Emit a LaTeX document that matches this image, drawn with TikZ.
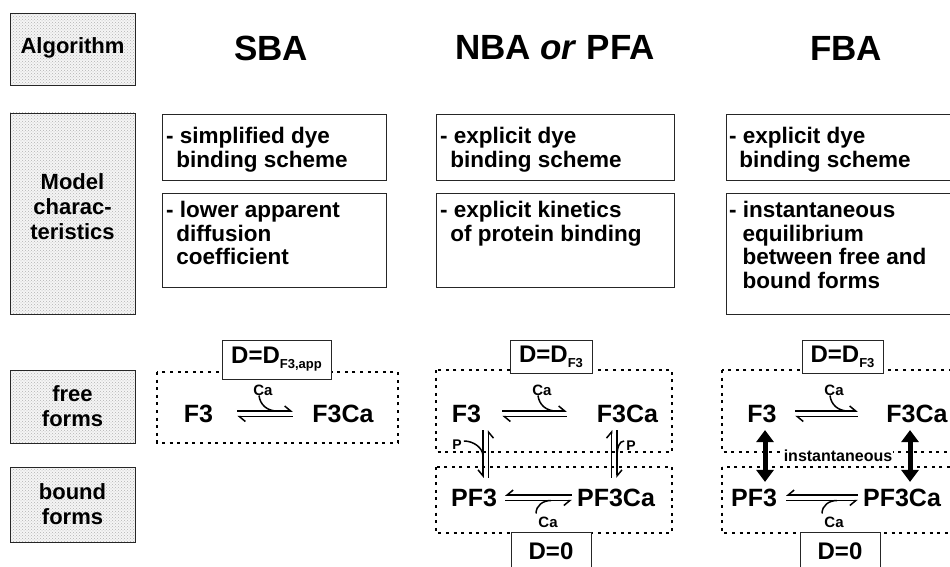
\documentclass[tikz,border=0pt]{standalone}
\usepackage{fontspec}
\setmainfont{Liberation Sans}
\usetikzlibrary{arrows.meta,patterns,positioning}

\newcommand{\tam}[2]{\fontsize{#1}{#2}\selectfont}
\newcommand{\subind}[1]{\raisebox{-5pt}{\tam{13}{13}#1}}

\begin{document}
\begin{tikzpicture}[x=1pt, y=-1pt,
    rotulo/.style={draw=black!85, line width=0.8pt, preaction={fill=gray!8},
      pattern=crosshatch dots, pattern color=gray!60, minimum width=125pt,
      inner sep=0pt},
    rotulotexto/.style={inner sep=0pt, align=center, font=\bfseries\tam{22}{25}},
    titulo/.style={inner sep=0pt, font=\bfseries\tam{35}{38}},
    caja/.style={draw=black!85, line width=0.8pt, inner sep=0pt, anchor=north west},
    texto/.style={anchor=north west, inner sep=0pt, align=left, font=\bfseries\tam{22.5}{23.6}},
    rayas/.style={line width=1.8pt, dash pattern=on 3pt off 4.6pt},
    coef/.style={draw=black!85, line width=0.8pt, fill=white, inner sep=0pt,
      font=\bfseries\tam{24}{26}},
    especie/.style={inner sep=0pt, font=\bfseries\tam{25}{28}},
    peq/.style={inner sep=0pt, font=\bfseries\tam{15}{17}},
    arpon/.style={line width=1.5pt, -{Straight Barb[harpoon, length=6pt, width=10pt]}},
    arponb/.style={line width=1.5pt, -{Straight Barb[harpoon, swap, length=6pt, width=10pt]}},
    gancho/.style={line width=1.5pt},
    flecha/.style={line width=5pt, {Triangle[length=12pt, width=17pt]}-{Triangle[length=12pt, width=17pt]}}
  ]
  \useasboundingbox (0,0) rectangle (950,567);

  % Rotulos de la columna izquierda
  \node[rotulo, minimum height=72pt] (algoritmo) at (72.5,49) {};
  \node[rotulo, minimum height=201pt] (modelo) at (72.5,213.5) {};
  \node[rotulo, minimum height=73pt] (libres) at (72.5,406.5) {};
  \node[rotulo, minimum height=75pt] (ligadas) at (72.5,504.5) {};
  \node[rotulotexto] (algoritmo-t) at (72.5,48) {Algorithm};
  \node[rotulotexto] (modelo-t) at (72.5,207) {Model\\charac-\\teristics};
  \node[rotulotexto] (libres-t) at (72.5,406) {free\\forms};
  \node[rotulotexto] (ligadas-t) at (72.5,504) {bound\\forms};

  % Titulos de los algoritmos
  \node[titulo] (sba) at (271,48) {SBA};
  \node[titulo] (nba) at (555,48) {NBA \textit{or} PFA};
  \node[titulo] (fba) at (846,48) {FBA};

  % Cajas con las caracteristicas del modelo
  \node[caja, minimum width=224pt, minimum height=66pt] (sba-a) at (162,114) {};
  \node[caja, minimum width=224pt, minimum height=94pt] (sba-b) at (162,193) {};
  \node[caja, minimum width=238pt, minimum height=66pt] (nba-a) at (436,114) {};
  \node[caja, minimum width=238pt, minimum height=94pt] (nba-b) at (436,193) {};
  \node[caja, minimum width=240pt, minimum height=66pt] (fba-a) at (726,114) {};
  \node[caja, minimum width=240pt, minimum height=121pt] (fba-b) at (726,193) {};

  \node[texto] (sba-a-t) at (166,127) {- simplified dye\\\hspace*{.45em}binding scheme};
  \node[texto] (sba-b-t) at (166,201) {- lower apparent\\\hspace*{.45em}diffusion\\\hspace*{.45em}coefficient};
  \node[texto] (nba-a-t) at (440,127) {- explicit dye\\\hspace*{.45em}binding scheme};
  \node[texto] (nba-b-t) at (440,201) {- explicit kinetics\\\hspace*{.45em}of protein binding};
  \node[texto] (fba-a-t) at (729,127) {- explicit dye\\\hspace*{.45em}binding scheme};
  \node[texto] (fba-b-t) at (729,201) {- instantaneous\\\hspace*{.6em}equilibrium\\\hspace*{.6em}between free and\\\hspace*{.6em}bound forms};

  % Esquema SBA
  \draw[rayas] (157,372) rectangle (398,443);
  \node[coef, minimum width=109pt, minimum height=39pt] (d-s) at (276.5,359.5) {D=D\subind{F3,app}};
  \node[especie] (f3-s) at (198.5,414) {F3};
  \node[especie] (f3ca-s) at (343,414) {F3Ca};
  \node[peq] (ca-s) at (263,390) {Ca};
  \draw[arpon, shorten <=24pt, shorten >=19.5pt] ([yshift=3pt]f3-s.east) -- ([yshift=3pt]f3ca-s.west);
  \draw[arpon, shorten <=19.5pt, shorten >=24pt] ([yshift=-2.5pt]f3ca-s.west) -- ([yshift=-2.5pt]f3-s.east);
  \draw[gancho] ([xshift=-4pt]ca-s.south) .. controls +(1,9) and +(-10,0) .. ([shift={(14,21)}]ca-s.center);

  % Esquema NBA / PFA
  \draw[rayas] (436,370) rectangle (672,452);
  \draw[rayas] (436,467) rectangle (672,533);
  \node[coef, minimum width=82pt, minimum height=33pt] (d-n) at (551,356.5) {D=D\subind{F3}};
  \node[coef, minimum width=80pt, minimum height=38pt, anchor=north] (cero-n) at (551,532) {D=0};
  \node[especie] (f3-n) at (466.5,414) {F3};
  \node[especie] (f3ca-n) at (627.5,414) {F3Ca};
  \node[especie] (pf3-n) at (474,498) {PF3};
  \node[especie] (pf3ca-n) at (616,498) {PF3Ca};
  \node[peq] (ca-n) at (542,390) {Ca};
  \node[peq] (cab-n) at (548,522) {Ca};
  \node[peq, font=\bfseries\tam{14}{16}] (p1-n) at (457,445) {P};
  \node[peq, font=\bfseries\tam{14}{16}] (p2-n) at (631,446) {P};
  \draw[arpon, shorten <=21pt, shorten >=30pt] ([yshift=3pt]f3-n.east) -- ([yshift=3pt]f3ca-n.west);
  \draw[arpon, shorten <=30pt, shorten >=21pt] ([yshift=-2.5pt]f3ca-n.west) -- ([yshift=-2.5pt]f3-n.east);
  \draw[gancho] ([xshift=-4pt]ca-n.south) .. controls +(1,9) and +(-10,0) .. ([shift={(14,21)}]ca-n.center);
  \draw[arponb, shorten <=5pt, shorten >=8pt] ([yshift=3pt]pf3ca-n.west) -- ([yshift=3pt]pf3-n.east);
  \draw[arponb, shorten <=8pt, shorten >=5pt] ([yshift=-2.5pt]pf3-n.east) -- ([yshift=-2.5pt]pf3ca-n.west);
  \draw[gancho] ([shift={(-12,-3)}]cab-n.north) .. controls +(0,-8) and +(-8,0) .. ([shift={(3,-21.5)}]cab-n.center);
  % equilibrio con la proteina
  \draw[arponb, shorten <=7pt, shorten >=11pt] ([xshift=16.5pt]f3-n.south) -- ([xshift=16.5pt]f3-n.south |- pf3-n.north);
  \draw[arponb, shorten <=11pt, shorten >=7pt] ([xshift=22pt]f3-n.south |- pf3-n.north) -- ([xshift=22pt]f3-n.south);
  \draw[arpon, shorten <=11pt, shorten >=7pt] ([xshift=-16pt]f3ca-n.south |- pf3ca-n.north) -- ([xshift=-16pt]f3ca-n.south);
  \draw[arpon, shorten <=7pt, shorten >=11pt] ([xshift=-10.5pt]f3ca-n.south) -- ([xshift=-10.5pt]f3ca-n.south |- pf3ca-n.north);
  \draw[gancho] ([shift={(2,-4)}]p1-n.east) .. controls +(10,0) and +(0,-8) .. ([shift={(16.5,33)}]f3-n.south);
  \draw[gancho] ([shift={(-2,-5)}]p2-n.west) .. controls +(-5,0) and +(0,-8) .. ([shift={(-10.5,33)}]f3ca-n.south);

  % Esquema FBA
  \draw[rayas] (722,370) rectangle (960,452);
  \draw[rayas] (722,467) rectangle (960,533);
  \node[coef, minimum width=81pt, minimum height=33pt] (d-f) at (842.5,356.5) {D=D\subind{F3}};
  \node[coef, minimum width=80pt, minimum height=38pt, anchor=north] (cero-f) at (840,532) {D=0};
  \node[especie] (f3-f) at (762,414) {F3};
  \node[especie] (f3ca-f) at (917,414) {F3Ca};
  \node[especie] (pf3-f) at (754,498) {PF3};
  \node[especie] (pf3ca-f) at (902,498) {PF3Ca};
  \node[peq] (ca-f) at (834,390) {Ca};
  \node[peq] (cab-f) at (834,522) {Ca};
  \draw[arpon, shorten <=18.4pt, shorten >=28.5pt] ([yshift=3pt]f3-f.east) -- ([yshift=3pt]f3ca-f.west);
  \draw[arpon, shorten <=28.5pt, shorten >=18.4pt] ([yshift=-2.5pt]f3ca-f.west) -- ([yshift=-2.5pt]f3-f.east);
  \draw[gancho] ([xshift=-4pt]ca-f.south) .. controls +(1,9) and +(-10,0) .. ([shift={(14,21)}]ca-f.center);
  \draw[arponb, shorten <=5pt, shorten >=9pt] ([yshift=3pt]pf3ca-f.west) -- ([yshift=3pt]pf3-f.east);
  \draw[arponb, shorten <=9pt, shorten >=5pt] ([yshift=-2.5pt]pf3-f.east) -- ([yshift=-2.5pt]pf3ca-f.west);
  \draw[gancho] ([shift={(-12,-3)}]cab-f.north) .. controls +(0,-8) and +(-8,0) .. ([shift={(3,-21.5)}]cab-f.center);
  % equilibrio instantaneo
  \draw[flecha, shorten <=7pt, shorten >=7pt] ([xshift=3pt]f3-f.south) -- ([xshift=3pt]f3-f.south |- pf3-f.north);
  \draw[flecha, shorten <=7pt, shorten >=7pt] ([xshift=-7pt]f3ca-f.south) -- ([xshift=-7pt]f3ca-f.south |- pf3ca-f.north);
  \node[fill=white, inner sep=1pt, font=\bfseries\tam{16}{18}] (inst) at (838,456) {instantaneous};
\end{tikzpicture}
\end{document}
